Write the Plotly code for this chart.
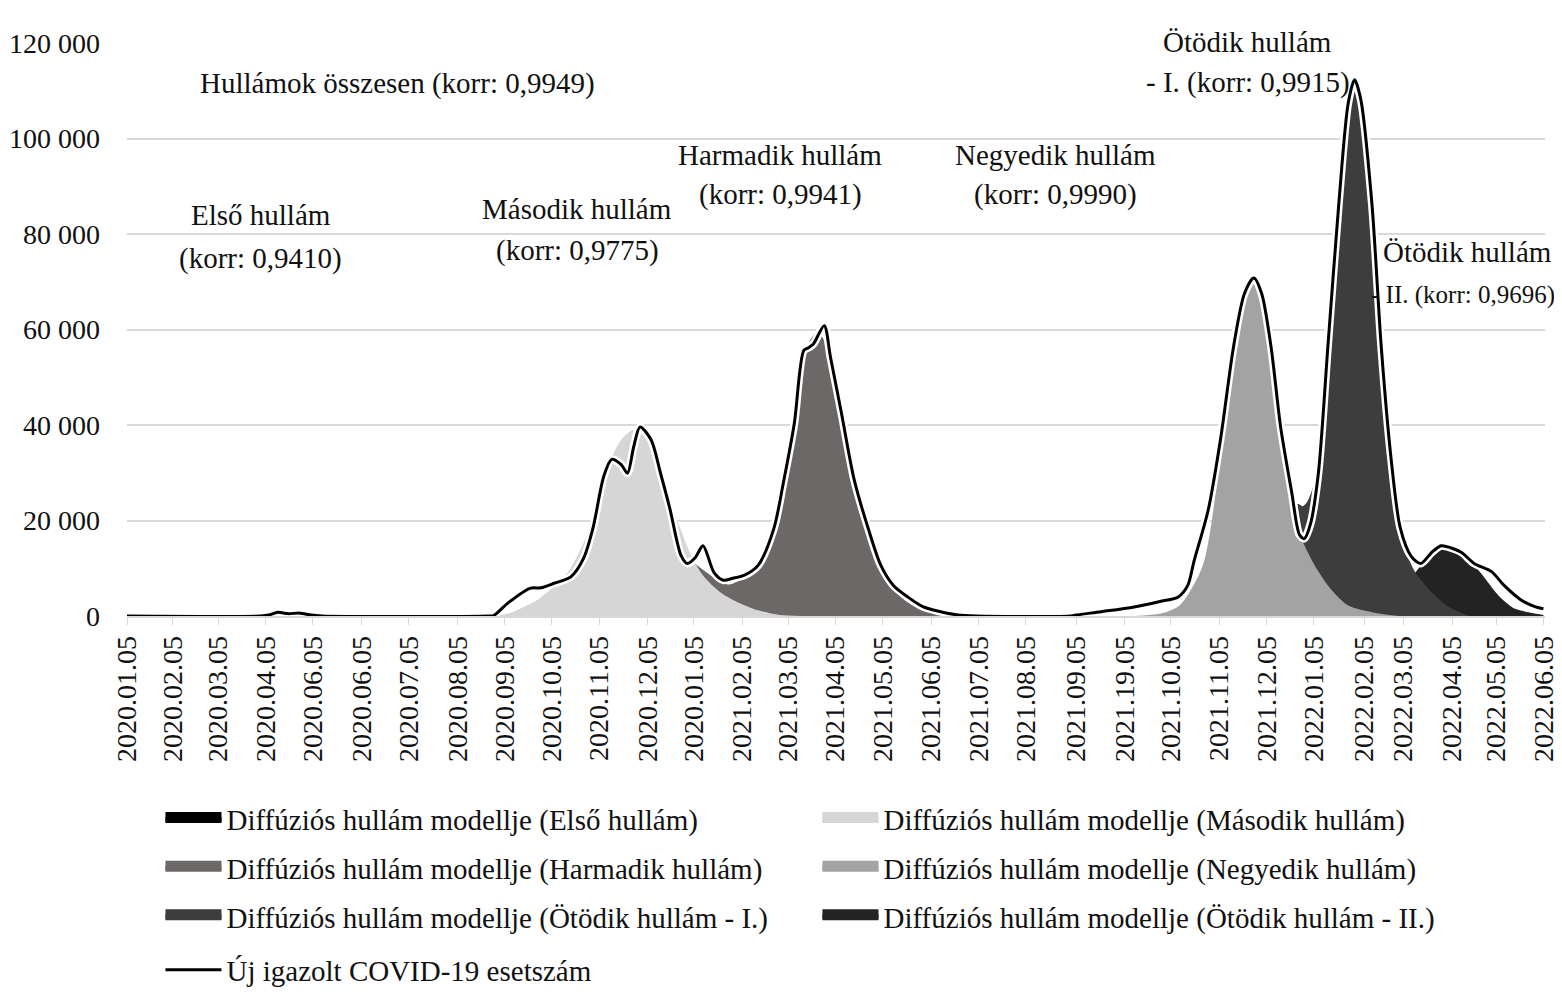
import plotly.graph_objects as go

# x positions are day offsets from the first tick
tick_days = [0, 29, 58, 88, 118, 149, 179, 210, 240, 270, 300, 331, 360, 391, 420, 450,
             480, 511, 541, 571, 603, 634, 663, 694, 724, 754, 786, 811, 842, 870, 900]
tick_labels = ["2020.01.05", "2020.02.05", "2020.03.05", "2020.04.05", "2020.06.05", "2020.06.05",
               "2020.07.05", "2020.08.05", "2020.09.05", "2020.10.05", "2020.11.05", "2020.12.05",
               "2020.01.05", "2021.02.05", "2021.03.05", "2021.04.05", "2021.05.05", "2021.06.05",
               "2021.07.05", "2021.08.05", "2021.09.05", "2021.19.05", "2021.10.05", "2021.11.05",
               "2021.12.05", "2022.01.05", "2022.02.05", "2022.03.05", "2022.04.05", "2022.05.05",
               "2022.06.05"]

# new confirmed cases (daily)
line_x = [0, 85, 90, 96, 102, 110, 117, 124, 230, 233, 242, 256, 263, 271, 282, 290, 296, 303,
          308, 314, 318, 322, 326, 333, 339, 345, 352, 356, 361, 366, 373, 379, 385, 392, 401,
          411, 417, 424, 430, 433, 436, 443, 447, 454, 462, 471, 479, 487, 496, 506, 517, 528,
          540, 600, 603, 619, 640, 657, 668, 674, 678, 687, 695, 703, 710, 716, 721, 727, 733,
          740, 745, 748, 752, 757, 763, 770, 776, 780, 784, 791, 797, 803, 809, 816, 822, 829,
          835, 841, 848, 856, 867, 875, 886, 895, 900]
line_y = [0, 0, 200, 800, 500, 600, 200, 0, 0, 100, 2700, 5800, 5900, 6800, 8200, 12000, 18300,
          29300, 32800, 31700, 29900, 35500, 39600, 36900, 29900, 22400, 12700, 11000, 12200,
          14700, 9100, 7500, 7900, 8500, 10600, 18300, 27800, 40300, 55600, 56200, 56900, 60800,
          54200, 42400, 28600, 18300, 10600, 6400, 4000, 1900, 900, 200, 0, 0, 200, 900, 1900,
          3100, 4000, 6400, 11500, 22200, 37400, 56200, 67500, 70800, 67500, 56200, 39600, 26000,
          17000, 16200, 19300, 29900, 56200, 86400, 107500, 112300, 108100, 86400, 56200, 33600,
          18500, 12500, 11000, 13300, 14700, 14300, 13300, 11000, 9300, 6400, 3300, 1900, 1500]

# diffusion wave models
w1_x = [86, 90, 96, 102, 110, 117, 124]
w1_y = [0, 300, 600, 450, 450, 150, 0]
w2_x = [231, 242, 256, 263, 280, 294, 305, 314, 322, 329, 339, 345, 352, 358, 366, 377, 388, 401, 415, 428]
w2_y = [0, 500, 2500, 3900, 9100, 18300, 30700, 36900, 39000, 37600, 32000, 24000, 18000, 13000,
        8500, 5000, 2900, 1200, 200, 0]
w3_x = [360, 371, 382, 388, 396, 404, 411, 419, 428, 434, 439, 445, 453, 464, 474, 485, 496, 509, 522]
w3_y = [11200, 8500, 6600, 7300, 8900, 12000, 16800, 30700, 49400, 57700, 59400, 56200, 43800,
        26600, 14100, 6400, 2900, 900, 0]
w4_x = [640, 657, 668, 674, 684, 695, 703, 711, 716, 722, 729, 735, 742, 754, 765, 776, 791, 808]
w4_y = [0, 500, 2000, 4400, 11000, 33600, 52500, 68300, 70600, 65200, 48600, 33600, 19900, 11000,
        5600, 2200, 800, 0]
w5a_x = [739, 744, 747, 750, 754, 759, 764, 770, 776, 780, 784, 791, 797, 803, 809, 818, 829, 840, 853]
w5a_y = [22000, 23500, 23000, 24000, 27500, 37000, 58000, 82000, 102000, 111300, 106000, 85000,
         54600, 29900, 17000, 9500, 5000, 1900, 0]
w5b_x = [791, 803, 809, 816, 823, 829, 835, 841, 850, 861, 872, 882, 897, 900]
w5b_y = [0, 1900, 4100, 7900, 11000, 13500, 14500, 14700, 12900, 8700, 4100, 1500, 400, 200]

wave_names = ["Diffúziós hullám modellje (Első hullám)",
              "Diffúziós hullám modellje (Második hullám)",
              "Diffúziós hullám modellje (Harmadik hullám)",
              "Diffúziós hullám modellje (Negyedik hullám)",
              "Diffúziós hullám modellje (Ötödik hullám - I.)",
              "Diffúziós hullám modellje (Ötödik hullám - II.)"]
wave_colors = ["#000000", "#d6d6d6", "#6d6868", "#a3a3a3", "#3d3d3d", "#232323"]
line_name = "Új igazolt COVID-19 esetszám"

# labels: (text, day, value, font size)
labels = [("Hullámok összesen (korr: 0,9949)", 172, 111300, 29),
          ("Első hullám", 85, 83700, 29), ("(korr: 0,9410)", 85, 74700, 29),
          ("Második hullám", 286, 85100, 29), ("(korr: 0,9775)", 286, 76400, 29),
          ("Harmadik hullám", 415, 96300, 29), ("(korr: 0,9941)", 415, 88000, 29),
          ("Negyedik hullám", 590, 96300, 29), ("(korr: 0,9990)", 590, 88000, 29),
          ("Ötödik hullám", 712, 120000, 29), ("- I. (korr: 0,9915)", 712, 111500, 29),
          ("Ötödik hullám", 852, 76000, 29), ("- II. (korr: 0,9696)", 849, 67100, 25)]

FONT = "Liberation Serif"
waves = [(w1_x, w1_y), (w2_x, w2_y), (w3_x, w3_y), (w4_x, w4_y), (w5a_x, w5a_y), (w5b_x, w5b_y)]
legend_ids = ["legend", "legend", "legend2", "legend2", "legend3", "legend3"]

fig = go.Figure()

# later waves sit behind the earlier ones
for i in reversed(range(len(waves))):
    wx, wy = waves[i]
    fig.add_trace(go.Scatter(x=wx, y=wy, mode="lines", fill="tozeroy",
                             line=dict(width=0, shape="spline", smoothing=0.8),
                             fillcolor=wave_colors[i], showlegend=False, hoverinfo="skip"))

# legend swatches
for i in range(len(waves)):
    fig.add_trace(go.Scatter(x=[None], y=[None], mode="lines", fill="tozeroy",
                             fillcolor=wave_colors[i], line=dict(color=wave_colors[i], width=10),
                             name=wave_names[i], legend=legend_ids[i], legendrank=i + 1))

# white halo under the case line
fig.add_trace(go.Scatter(x=line_x, y=line_y, mode="lines",
                         line=dict(color="white", width=8, shape="spline", smoothing=0.8),
                         showlegend=False, hoverinfo="skip"))
fig.add_trace(go.Scatter(x=line_x, y=line_y, mode="lines", name=line_name,
                         line=dict(color="black", width=3, shape="spline", smoothing=0.8),
                         legend="legend4", legendrank=7))

for text, d, v, fs in labels:
    fig.add_annotation(x=d, y=v, text=text, showarrow=False, xanchor="center", yanchor="middle",
                       yshift=1, font=dict(family=FONT, size=fs, color="#111111"))

leg = dict(orientation="h", x=0.0236, xanchor="left", yanchor="middle",
           entrywidth=586, entrywidthmode="pixels", itemwidth=56,
           font=dict(family=FONT, size=29, color="#111111"), bgcolor="rgba(0,0,0,0)")

fig.update_layout(
    width=1554, height=999,
    margin=dict(l=119, r=17, t=35, b=386),
    paper_bgcolor="white", plot_bgcolor="white",
    separators=", ",
    font=dict(family=FONT, size=28, color="#111111"),
    legend={**leg, "y": -0.3547},
    legend2={**leg, "y": -0.4395},
    legend3={**leg, "y": -0.5242},
    legend4={**leg, "y": -0.6177},
    xaxis=dict(range=[0, 901], tickmode="array", tickvals=tick_days, ticktext=tick_labels,
               tickangle=-90, ticks="outside", ticklen=7, tickcolor="#d9d9d9",
               showgrid=False, showline=True, linecolor="#d9d9d9", linewidth=1.5,
               zeroline=False, automargin=False,
               tickfont=dict(family=FONT, size=28, color="#111111")),
    yaxis=dict(range=[0, 120000], tickvals=[0, 20000, 40000, 60000, 80000, 100000, 120000],
               tickformat=",d", showgrid=True, gridcolor="#d9d9d9", gridwidth=1.5,
               zeroline=False, showline=False, ticks="", ticklabelstandoff=26,
               automargin=False, tickfont=dict(family=FONT, size=28, color="#111111")),
)

fig.write_html("out.html")
